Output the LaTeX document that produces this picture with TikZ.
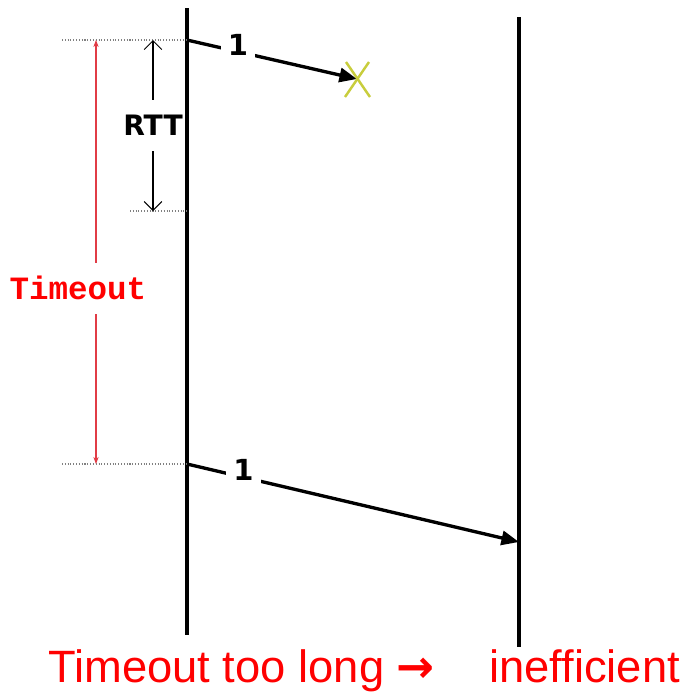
\documentclass[tikz,border=0pt]{standalone}
\usepackage{fontspec}
\setmainfont{Liberation Sans}[Ligatures=NoCommon]
\newfontfamily\labelfont{DejaVu Sans}
\newfontfamily\arrowfont{DejaVu Sans}
\newfontfamily\codefont{Liberation Mono}
\usetikzlibrary{arrows.meta}
\definecolor{lossyellow}{RGB}{200,205,60}
\definecolor{tmored}{RGB}{225,60,70}

\begin{document}
\begin{tikzpicture}[x=0.02cm, y=-0.02cm,
  lifeline/.style={line width=2.8pt, draw=black},
  pkt/.style={-{Triangle[length=10pt, width=8pt]}, line width=1.9pt},
  pktlabel/.style={fill=white, inner xsep=4pt, inner ysep=2pt, yshift=4pt,
    font=\labelfont\bfseries\fontsize{16.5}{19}\selectfont},
  guide/.style={densely dotted, draw=gray, line width=0.6pt},
  rttarr/.style={{Straight Barb[length=5pt]}-{Straight Barb[length=5pt]}, line width=0.6pt},
  tmoarr/.style={{Stealth[length=4pt]}-{Stealth[length=4pt]}, line width=0.6pt, draw=tmored},
  lossmark/.style={line width=1.4pt, draw=lossyellow}
]
\useasboundingbox (0,0) rectangle (687,694);

% sender and receiver time lines
\coordinate (snd top) at (187,8);
\coordinate (snd bot) at (187,635);
\coordinate (rcv top) at (519,17);
\coordinate (rcv bot) at (519,647);
\draw[lifeline] (snd top) -- (snd bot);
\draw[lifeline] (rcv top) -- (rcv bot);

% send instants
\coordinate (tx1) at (187,40);
\coordinate (ack due) at (187,211);
\coordinate (tx2) at (187,464);

% dotted guides
\draw[guide] (62,40) -- (tx1);
\draw[guide] (130,211) -- (ack due);
\draw[guide] (62,464) -- (tx2);

% RTT span
\draw[rttarr] (153,40) -- (153,211)
  node[midway, fill=white, minimum height=1.02cm, inner xsep=1pt,
    font=\labelfont\bfseries\fontsize{16}{19}\selectfont] (rtt) {RTT};

% timeout span
\draw[tmoarr] (96,40) -- (96,464);
\node[fill=white, minimum height=1.02cm, inner xsep=0pt, text=red,
  font=\codefont\bfseries\fontsize{18.5}{21}\selectfont] (tmo) at (78,288) {Timeout};

% first copy, lost
\coordinate (lost) at (357,79);
\draw[pkt] (tx1) -- (lost) node[pktlabel, pos=0.3] (seg1) {1};
\draw[lossmark] (346,62) -- (370,97);
\draw[lossmark] (369,62) -- (345,97);

% retransmission
\coordinate (rx2) at (519,542);
\draw[pkt] (tx2) -- (rx2) node[pktlabel, pos=0.17] (seg2) {1};

% verdict
\node[anchor=base west, inner sep=0pt, text=red, font=\fontsize{25.8}{30}\selectfont] (verdict)
  at (48,682) {Timeout too long {\arrowfont\bfseries →}\hspace{1.2em}inefficient};

\end{tikzpicture}
\end{document}
